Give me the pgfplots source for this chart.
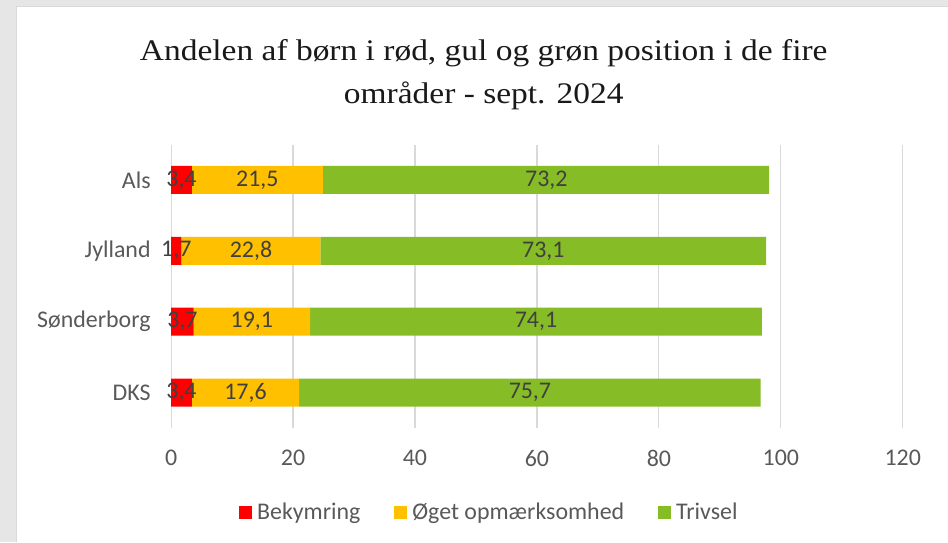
\documentclass[border=0pt]{standalone}
\usepackage{pgfplots}
\pgfplotsset{compat=1.18}
\usepackage{fontspec}
\setmainfont{Carlito}
\newfontfamily\titlefont[FakeStretch=1.12]{Liberation Serif}
\definecolor{cred}{HTML}{FF0000}
\definecolor{cyel}{HTML}{FFC000}
\definecolor{cgrn}{HTML}{86BC25}
\definecolor{gridc}{HTML}{D9D9D9}
\definecolor{txt}{HTML}{595959}
\definecolor{lab}{HTML}{404040}
\definecolor{bg}{HTML}{E6E6E6}
\begin{document}
\begin{tikzpicture}[x=1bp,y=1bp]
\fill[bg] (0,0) rectangle (948,542);
\fill[white] (17,0) rectangle (948,535);
\draw[gridc, line width=1bp] (17,0) -- (17,535) -- (948,535);
\node[font=\titlefont\fontsize{30}{43}\selectfont, align=center, text=black!90] at (484,467) {Andelen af børn i rød, gul og grøn position i de fire\\områder - sept. 2024};
\begin{axis}[
  at={(171.2bp,113.8bp)}, anchor=south west,
  scale only axis, width=732bp, height=283.6bp,
  xbar stacked, bar width=28bp,
  xmin=0, xmax=120, ymin=-0.5, ymax=3.5,
  xtick={0,20,...,120}, ytick={0,1,2,3},
  yticklabels={DKS,Sønderborg,Jylland,Als},
  xmajorgrids, grid style={gridc, line width=1.2bp},
  axis line style={draw=none}, major tick length=0pt,
  tick label style={font=\fontsize{24}{26}\selectfont, text=txt},
  /pgf/number format/assume math mode=true,
  yticklabel style={xshift=-17bp},
  xticklabel style={yshift=-19bp},
  legend columns=3,
  legend style={draw=none, at={(0.437,-0.297)}, anchor=center,
    font=\fontsize{24}{26}\selectfont, text=txt,
    /tikz/every even column/.append style={column sep=29bp},
    nodes={inner xsep=5bp}},
  legend image code/.code={\fill[#1] (0bp,-6.5bp) rectangle (13bp,6.5bp);},
]
\addplot[fill=cred, draw=none] coordinates {(3.4,0) (3.7,1) (1.7,2) (3.4,3)};
\addplot[fill=cyel, draw=none] coordinates {(17.6,0) (19.1,1) (22.8,2) (21.5,3)};
\addplot[fill=cgrn, draw=none] coordinates {(75.7,0) (74.1,1) (73.1,2) (73.2,3)};
\legend{Bekymring, Øget opmærksomhed, Trivsel}
\end{axis}
\begin{axis}[
  at={(171.2bp,113.8bp)}, anchor=south west,
  scale only axis, width=732bp, height=283.6bp,
  xmin=0, xmax=120, ymin=-0.5, ymax=3.5, hide axis,
  nodes near coords, point meta=explicit symbolic,
  nodes near coords style={anchor=center, font=\fontsize{24}{26}\selectfont, text=lab},
]
\addplot[draw=none, mark=none] table[meta=l] {
x y l
1.7 0 3,4
12.2 0 17,6
58.85 0 75,7
1.85 1 3,7
13.25 1 19,1
59.85 1 74,1
0.85 2 1,7
13.1 2 22,8
61.05 2 73,1
1.7 3 3,4
14.15 3 21,5
61.55 3 73,2
};
\end{axis}
\end{tikzpicture}
\end{document}
